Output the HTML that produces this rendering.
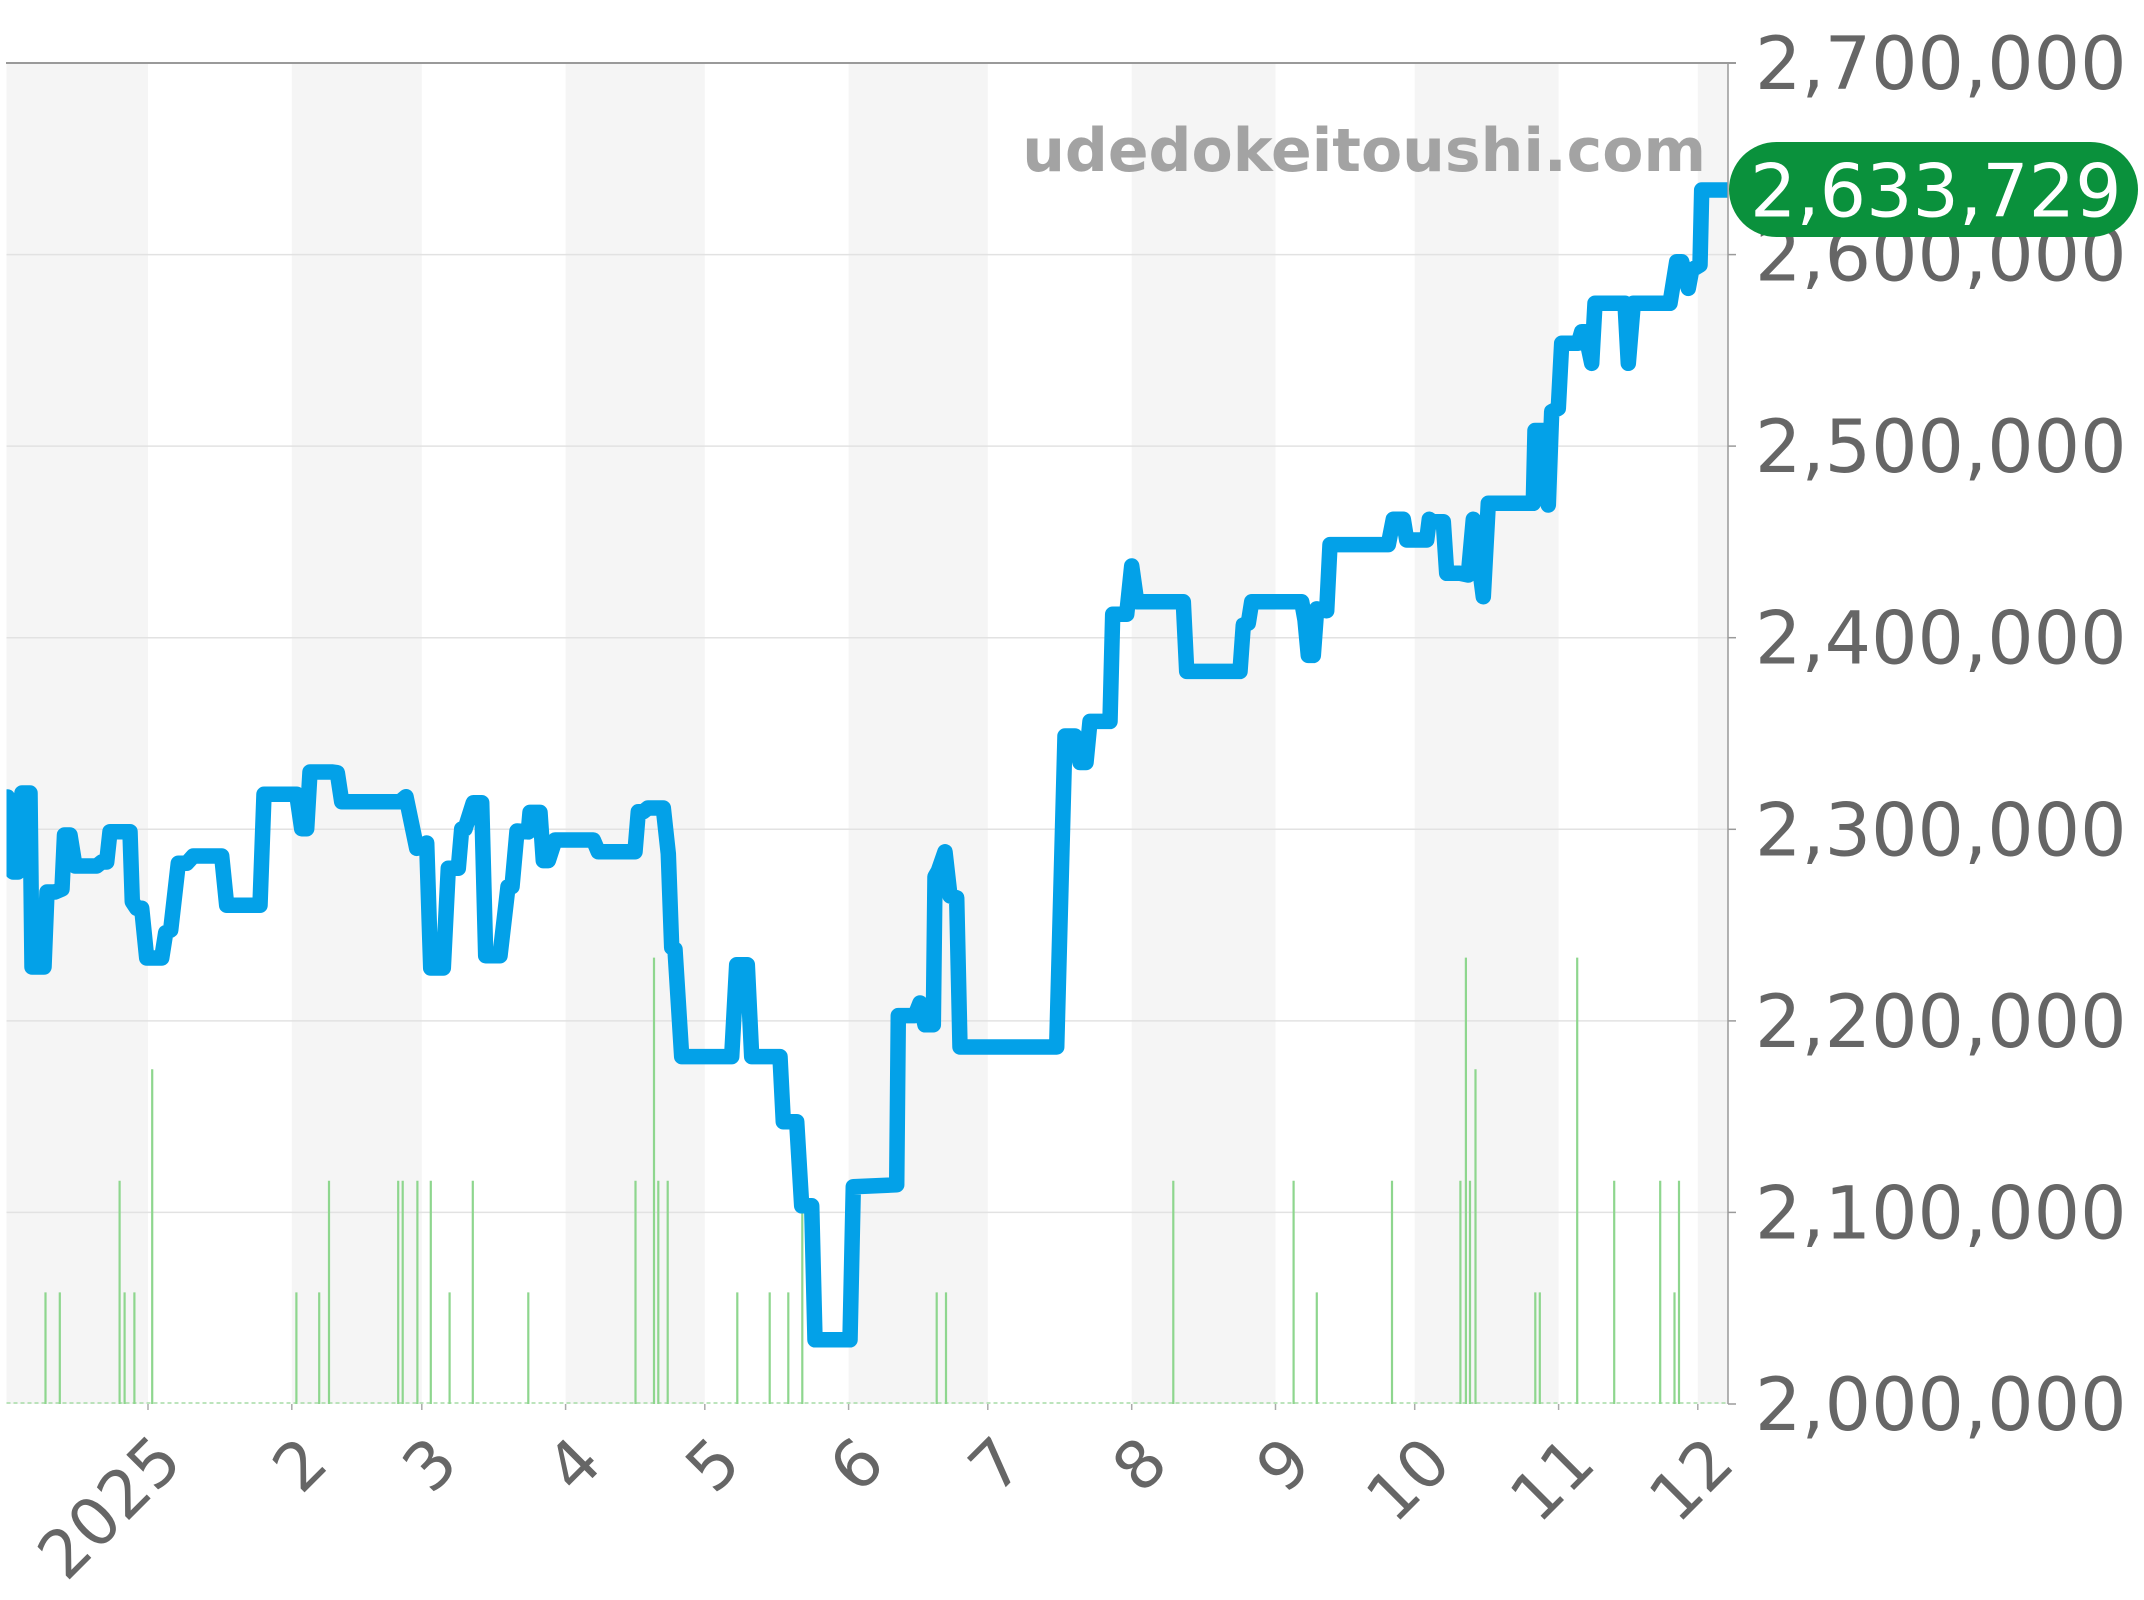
<!DOCTYPE html>
<html>
<head>
<meta charset="utf-8">
<style>
html,body{margin:0;padding:0;background:#fff;}
svg{display:block;}
</style>
</head>
<body>
<svg width="2144" height="1600" viewBox="0 0 2144 1600" xmlns="http://www.w3.org/2000/svg">
<defs>
<clipPath id="plot"><rect x="6.5" y="50" width="1721.5" height="1360"/></clipPath>
</defs>
<rect x="0" y="0" width="2144" height="1600" fill="#ffffff"/>
<g fill="#f5f5f5">
<rect x="6.5" y="64" width="141.5" height="1340"/>
<rect x="291.8" y="64" width="130" height="1340"/>
<rect x="565.6" y="64" width="139.2" height="1340"/>
<rect x="848.6" y="64" width="139.2" height="1340"/>
<rect x="1131.7" y="64" width="143.8" height="1340"/>
<rect x="1414.7" y="64" width="143.9" height="1340"/>
<rect x="1697.8" y="64" width="30.2" height="1340"/>
</g>
<g stroke="#e2e2e2" stroke-width="1.5">
<line x1="6.5" x2="1728" y1="254.6" y2="254.6"/>
<line x1="6.5" x2="1728" y1="446.1" y2="446.1"/>
<line x1="6.5" x2="1728" y1="637.7" y2="637.7"/>
<line x1="6.5" x2="1728" y1="829.3" y2="829.3"/>
<line x1="6.5" x2="1728" y1="1020.9" y2="1020.9"/>
<line x1="6.5" x2="1728" y1="1212.4" y2="1212.4"/>
</g>
<line x1="6.5" x2="1728" y1="1403" y2="1403" stroke="#a6dba6" stroke-width="1.5" stroke-dasharray="4,3"/>
<g stroke="#8ed68e" stroke-width="2.2">
<line x1="45.5" x2="45.5" y1="1292.4" y2="1404"/>
<line x1="59.8" x2="59.8" y1="1292.4" y2="1404"/>
<line x1="119.6" x2="119.6" y1="1180.8" y2="1404"/>
<line x1="124.6" x2="124.6" y1="1292.4" y2="1404"/>
<line x1="134.4" x2="134.4" y1="1292.4" y2="1404"/>
<line x1="152.2" x2="152.2" y1="1069.2" y2="1404"/>
<line x1="296.4" x2="296.4" y1="1292.4" y2="1404"/>
<line x1="319.2" x2="319.2" y1="1292.4" y2="1404"/>
<line x1="329" x2="329" y1="1180.8" y2="1404"/>
<line x1="398.2" x2="398.2" y1="1180.8" y2="1404"/>
<line x1="402.7" x2="402.7" y1="1180.8" y2="1404"/>
<line x1="417.4" x2="417.4" y1="1180.8" y2="1404"/>
<line x1="430.8" x2="430.8" y1="1180.8" y2="1404"/>
<line x1="449.6" x2="449.6" y1="1292.4" y2="1404"/>
<line x1="472.8" x2="472.8" y1="1180.8" y2="1404"/>
<line x1="528.3" x2="528.3" y1="1292.4" y2="1404"/>
<line x1="635.5" x2="635.5" y1="1180.8" y2="1404"/>
<line x1="654" x2="654" y1="957.6" y2="1404"/>
<line x1="658.3" x2="658.3" y1="1180.8" y2="1404"/>
<line x1="667.7" x2="667.7" y1="1180.8" y2="1404"/>
<line x1="737.3" x2="737.3" y1="1292.4" y2="1404"/>
<line x1="769.7" x2="769.7" y1="1292.4" y2="1404"/>
<line x1="788.3" x2="788.3" y1="1292.4" y2="1404"/>
<line x1="802.3" x2="802.3" y1="1206" y2="1404"/>
<line x1="936.7" x2="936.7" y1="1292.4" y2="1404"/>
<line x1="946" x2="946" y1="1292.4" y2="1404"/>
<line x1="1173.3" x2="1173.3" y1="1180.8" y2="1404"/>
<line x1="1293.6" x2="1293.6" y1="1180.8" y2="1404"/>
<line x1="1316.8" x2="1316.8" y1="1292.4" y2="1404"/>
<line x1="1392" x2="1392" y1="1180.8" y2="1404"/>
<line x1="1460.4" x2="1460.4" y1="1180.8" y2="1404"/>
<line x1="1465.9" x2="1465.9" y1="957.6" y2="1404"/>
<line x1="1470" x2="1470" y1="1180.8" y2="1404"/>
<line x1="1475.5" x2="1475.5" y1="1069.2" y2="1404"/>
<line x1="1535.3" x2="1535.3" y1="1292.4" y2="1404"/>
<line x1="1539.8" x2="1539.8" y1="1292.4" y2="1404"/>
<line x1="1577.2" x2="1577.2" y1="957.6" y2="1404"/>
<line x1="1614.2" x2="1614.2" y1="1180.8" y2="1404"/>
<line x1="1660.2" x2="1660.2" y1="1180.8" y2="1404"/>
<line x1="1674.5" x2="1674.5" y1="1292.4" y2="1404"/>
<line x1="1679" x2="1679" y1="1180.8" y2="1404"/>
</g>
<text x="1706" y="171" text-anchor="end" font-family="DejaVu Sans, Liberation Sans, sans-serif" font-weight="bold" font-size="60" fill="#a3a3a3">udedokeitoushi.com</text>
<g clip-path="url(#plot)">
<polyline fill="none" stroke="#03a1e8" stroke-width="15.5" stroke-linejoin="round" stroke-linecap="round" points="7.5,797 13,872 18,872 22,793 30,793 32,967 44,967 47,892 55,892 62,889 64.5,835 70,835 75,866 96.7,866 101.7,862 106.7,862 110,831.7 130,831.7 132.3,901.7 136.7,908.3 141.7,908.3 146.7,958 161.7,958 165.7,932.7 170.7,930 178.3,863.3 186.7,863.3 193.3,856 221.7,856 226.7,905.3 260,905.3 264,794.3 296.7,794.3 301.7,828.7 306.7,828.7 310,772 331.7,772 337.3,772.7 341.7,801.7 400,801.7 406,796.7 416.7,848.3 420.7,846.7 426.7,843 430.7,968 443.3,968 448.3,868.3 458.3,868.3 461.7,829 465,829 473.3,802.7 481.7,802.7 485.7,955.7 500,955.7 508,886.7 512,886.7 517,831 528.3,831.9 530,812.4 540,812.4 543.3,860.6 548.3,860.6 555,840 593.3,840 598.3,851.8 635,851.8 638.3,811.7 643.3,811.7 648,808 663.3,808 668.3,853.8 671.7,947.5 675,949.4 681.7,1056.6 731.7,1056.6 736.7,964.7 747.3,964.7 751.7,1056.6 780,1056.6 783.3,1121.7 796.7,1121.7 801.7,1205.8 811.7,1205.8 815,1339.8 850,1339.8 853.3,1186.7 896.7,1184.8 898.3,1015.6 915,1015.6 920,1003 925,1024.8 933.3,1024.8 935,876.7 938.3,871 945,851.8 950,895.9 956.7,897.8 960,1047 1056.7,1047 1065,736 1075,736 1080,762.5 1086,762.5 1090,721.4 1110,721.4 1112.7,614.3 1126.7,614.3 1131.7,566 1136.7,601.8 1183.3,601.8 1186.7,671.4 1240,671.4 1243.3,625 1248.3,623.2 1251.7,601.8 1301.7,601.8 1305,620 1308.3,655.4 1313.3,655.4 1316.7,608.9 1326.7,610.7 1330,544.6 1388.3,544.6 1393.3,519.3 1403.3,519.3 1406.7,540 1426.7,540 1429.3,519.3 1432,521.7 1443.3,521.7 1446.7,573.3 1460,573.3 1468.3,575 1473.3,519.3 1483.3,596.7 1488.3,503.3 1533.3,503.3 1535,430.5 1543.3,430.5 1548.3,505 1551.7,411.7 1558.3,408.3 1561.7,343.3 1578.3,343.3 1581.7,331.7 1585,331.7 1591.7,363.3 1595,303.3 1625,303.3 1628.3,363.3 1633.3,303.3 1670,303.3 1676.7,261.7 1681.7,261.7 1688.3,288.3 1691.7,270 1700,265 1701.7,190 1735,190"/>
</g>
<line x1="6" x2="1736" y1="63" y2="63" stroke="#9a9a9a" stroke-width="2"/>
<line x1="1728" x2="1728" y1="63" y2="1404" stroke="#9a9a9a" stroke-width="1.5"/>
<g stroke="#9a9a9a" stroke-width="1.5">
<line x1="1728" x2="1736" y1="254.6" y2="254.6"/>
<line x1="1728" x2="1736" y1="446.1" y2="446.1"/>
<line x1="1728" x2="1736" y1="637.7" y2="637.7"/>
<line x1="1728" x2="1736" y1="829.3" y2="829.3"/>
<line x1="1728" x2="1736" y1="1020.9" y2="1020.9"/>
<line x1="1728" x2="1736" y1="1212.4" y2="1212.4"/>
<line x1="1728" x2="1736" y1="1404" y2="1404"/>
</g>
<g stroke="#aaaaaa" stroke-width="1.5">
<line x1="148" x2="148" y1="1404" y2="1410"/>
<line x1="291.8" x2="291.8" y1="1404" y2="1410"/>
<line x1="421.8" x2="421.8" y1="1404" y2="1410"/>
<line x1="565.6" x2="565.6" y1="1404" y2="1410"/>
<line x1="704.8" x2="704.8" y1="1404" y2="1410"/>
<line x1="848.6" x2="848.6" y1="1404" y2="1410"/>
<line x1="987.8" x2="987.8" y1="1404" y2="1410"/>
<line x1="1131.7" x2="1131.7" y1="1404" y2="1410"/>
<line x1="1275.5" x2="1275.5" y1="1404" y2="1410"/>
<line x1="1414.7" x2="1414.7" y1="1404" y2="1410"/>
<line x1="1558.6" x2="1558.6" y1="1404" y2="1410"/>
<line x1="1697.8" x2="1697.8" y1="1404" y2="1410"/>
</g>
<g font-family="DejaVu Sans, Liberation Sans, sans-serif" font-size="73" fill="#666666">
<text x="1755" y="89">2,700,000</text>
<text x="1755" y="280.6">2,600,000</text>
<text x="1755" y="472.1">2,500,000</text>
<text x="1755" y="663.7">2,400,000</text>
<text x="1755" y="855.3">2,300,000</text>
<text x="1755" y="1046.9">2,200,000</text>
<text x="1755" y="1238.4">2,100,000</text>
<text x="1755" y="1430">2,000,000</text>
</g>
<g font-family="DejaVu Sans, Liberation Sans, sans-serif" font-size="66" fill="#666666" text-anchor="end">
<text transform="translate(185,1464) rotate(-45)">2025</text>
<text transform="translate(330.8,1466) rotate(-45)">2</text>
<text transform="translate(460.8,1466) rotate(-45)">3</text>
<text transform="translate(604.6,1466) rotate(-45)">4</text>
<text transform="translate(743.8,1466) rotate(-45)">5</text>
<text transform="translate(887.6,1466) rotate(-45)">6</text>
<text transform="translate(1026.8,1466) rotate(-45)">7</text>
<text transform="translate(1170.7,1466) rotate(-45)">8</text>
<text transform="translate(1314.5,1466) rotate(-45)">9</text>
<text transform="translate(1454,1466) rotate(-45)">10</text>
<text transform="translate(1598,1466) rotate(-45)">11</text>
<text transform="translate(1737,1466) rotate(-45)">12</text>
</g>
<rect x="1729" y="142" width="409" height="95" rx="47.5" ry="47.5" fill="#0a913c"/>
<text x="1750" y="216.7" font-family="DejaVu Sans, Liberation Sans, sans-serif" font-size="73" fill="#ffffff">2,633,729</text>
</svg>
</body>
</html>
